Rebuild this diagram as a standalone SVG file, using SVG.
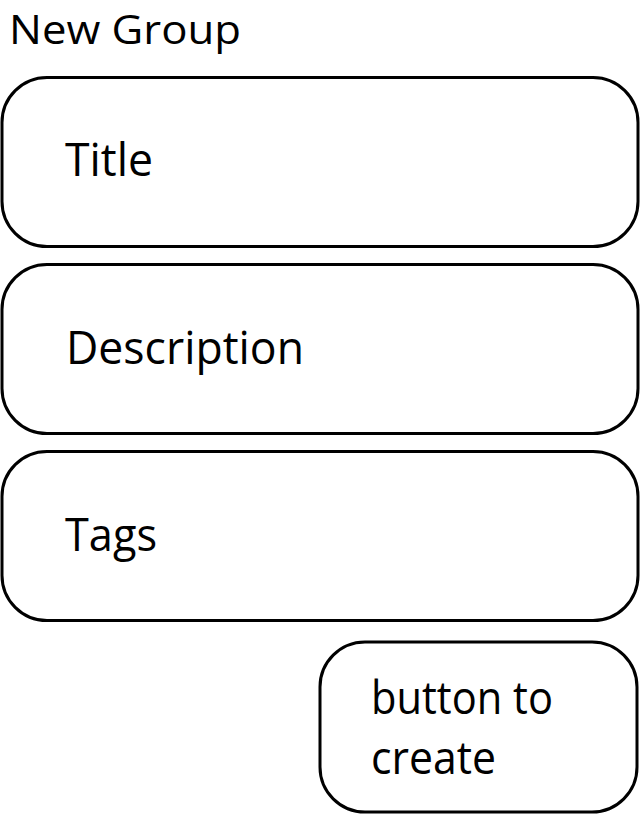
<svg xmlns="http://www.w3.org/2000/svg" width="641" height="816" viewBox="0 0 641 816">
<style>
.box{fill:#fff;stroke:#000;stroke-width:3}
.t{font-family:"Open Sans","Noto Sans",sans-serif;font-size:46px;fill:#000}
.h{font-family:"Open Sans","Noto Sans",sans-serif;font-size:40px;fill:#000}
</style>
<rect width="641" height="816" fill="#fff"/>
<g id="heading"><text class="h" x="9" y="43.5" textLength="232" lengthAdjust="spacingAndGlyphs">New Group</text></g>
<g id="title"><rect class="box" x="2" y="77.5" width="636" height="169" rx="45"/><text class="t" x="65" y="176" textLength="88" lengthAdjust="spacingAndGlyphs">Title</text></g>
<g id="description"><rect class="box" x="2" y="264.5" width="636" height="169" rx="45"/><text class="t" x="66" y="364" textLength="238" lengthAdjust="spacingAndGlyphs">Description</text></g>
<g id="tags"><rect class="box" x="2" y="451.5" width="636" height="169" rx="45"/><text class="t" x="65" y="551" textLength="92" lengthAdjust="spacingAndGlyphs">Tags</text></g>
<g id="button"><rect class="box" x="320" y="642" width="317" height="170" rx="45"/><text class="t" x="371" y="714" textLength="182" lengthAdjust="spacingAndGlyphs">button to</text><text class="t" x="371" y="774" textLength="125" lengthAdjust="spacingAndGlyphs">create</text></g>
<g id="connectors"/>
</svg>
